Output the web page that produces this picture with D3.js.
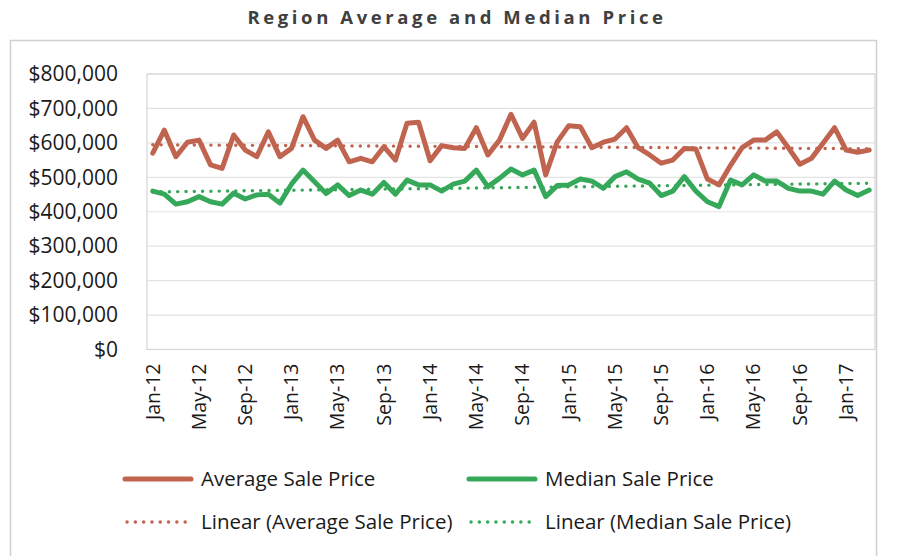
<!DOCTYPE html>
<html>
<head>
<meta charset="utf-8">
<script src="https://cdn.jsdelivr.net/npm/d3@7"></script>
<style>
  html, body { margin: 0; padding: 0; background: #fff; }
  svg { display: block; }
  text { font-family: "Open Sans", "Noto Sans", sans-serif; }
</style>
</head>
<body>
<svg id="chart" width="902" height="556"></svg>
<script>
// Monthly categories, Jan-12 through Mar-17
const months = [
  "Jan-12","Feb-12","Mar-12","Apr-12","May-12","Jun-12","Jul-12","Aug-12","Sep-12","Oct-12","Nov-12","Dec-12",
  "Jan-13","Feb-13","Mar-13","Apr-13","May-13","Jun-13","Jul-13","Aug-13","Sep-13","Oct-13","Nov-13","Dec-13",
  "Jan-14","Feb-14","Mar-14","Apr-14","May-14","Jun-14","Jul-14","Aug-14","Sep-14","Oct-14","Nov-14","Dec-14",
  "Jan-15","Feb-15","Mar-15","Apr-15","May-15","Jun-15","Jul-15","Aug-15","Sep-15","Oct-15","Nov-15","Dec-15",
  "Jan-16","Feb-16","Mar-16","Apr-16","May-16","Jun-16","Jul-16","Aug-16","Sep-16","Oct-16","Nov-16","Dec-16",
  "Jan-17","Feb-17","Mar-17"
];

// Average sale price per month
const averagePrice = [
  570000, 637000, 560000, 602000, 608000, 536000, 526000, 623000, 579000, 560000, 632000, 560000,
  584000, 676000, 608000, 584000, 608000, 545000, 555000, 545000, 589000, 550000, 657000, 660000,
  548000, 592000, 586000, 584000, 644000, 565000, 608000, 683000, 613000, 660000, 507000, 603000,
  650000, 647000, 586000, 602000, 611000, 644000, 586000, 565000, 541000, 550000, 584000, 582000,
  495000, 478000, 535000, 586000, 608000, 608000, 632000, 586000, 538000, 555000, 599000, 644000,
  579000, 573000, 579000
];

// Median sale price per month
const medianPrice = [
  460000, 451000, 422000, 429000, 444000, 429000, 422000, 454000, 437000, 449000, 451000, 425000,
  480000, 521000, 487000, 453000, 478000, 447000, 463000, 451000, 485000, 451000, 492000, 478000,
  478000, 460000, 480000, 489000, 521000, 473000, 497000, 524000, 507000, 521000, 444000, 476000,
  478000, 495000, 489000, 468000, 502000, 516000, 495000, 483000, 447000, 460000, 502000, 460000,
  429000, 415000, 492000, 478000, 507000, 489000, 489000, 468000, 460000, 460000, 451000, 489000,
  463000, 447000, 463000
];

const yTicks = [0, 100000, 200000, 300000, 400000, 500000, 600000, 700000, 800000];
const seriesNames = ["Average Sale Price", "Median Sale Price"];
const trendNames = ["Linear (Average Sale Price)", "Linear (Median Sale Price)"];
const chartTitle = "Region Average and Median Price";

const colors = { avg: "#C0644F", med: "#36A85A" };

const svg = d3.select("#chart");
const plot = { left: 147, right: 875, top: 74, bottom: 349.5 };

// Outer chart frame
svg.append("rect")
  .attr("x", 10.5).attr("y", 40.5)
  .attr("width", 866).attr("height", 530)
  .attr("fill", "none").attr("stroke", "#d0d0d0").attr("stroke-width", 1.5);

// Title
svg.append("text")
  .attr("x", 457).attr("y", 24)
  .attr("text-anchor", "middle")
  .attr("font-size", 18.5).attr("font-weight", 700)
  .attr("letter-spacing", 3.6)
  .attr("fill", "#404040")
  .text(chartTitle);

const x = d3.scaleBand().domain(months).range([plot.left, plot.right]).padding(0);
const xc = d => x(d) + x.bandwidth() / 2;
const y = d3.scaleLinear().domain([0, 800000]).range([plot.bottom, plot.top]);

// Gridlines
svg.append("g").selectAll("line").data(yTicks.filter(v => v > 0)).join("line")
  .attr("x1", plot.left).attr("x2", plot.right)
  .attr("y1", d => y(d)).attr("y2", d => y(d))
  .attr("stroke", "#e3e3e3").attr("stroke-width", 1.2);

// Plot area border
svg.append("rect")
  .attr("x", plot.left).attr("y", plot.top)
  .attr("width", plot.right - plot.left).attr("height", plot.bottom - plot.top)
  .attr("fill", "none").attr("stroke", "#d6d6d6").attr("stroke-width", 1.2);

// Y axis labels
const yAxis = d3.axisLeft(y).tickValues(yTicks).tickFormat(d3.format("$,")).tickSize(0).tickPadding(0);
const gy = svg.append("g").attr("transform", `translate(${118},0)`).call(yAxis);
gy.select(".domain").remove();
gy.selectAll("text").attr("font-size", 21).attr("fill", "#1a1a1a")
  .attr("font-family", "'Open Sans', sans-serif");

// X axis labels (every fourth month, rotated)
const xAxis = d3.axisBottom(x).tickValues(months.filter((m, i) => i % 4 === 0)).tickSize(0);
const gx = svg.append("g").attr("transform", `translate(0,${plot.bottom})`).call(xAxis);
gx.select(".domain").remove();
gx.selectAll("text")
  .attr("font-size", 19.5).attr("fill", "#1a1a1a")
  .attr("font-family", "'Open Sans', sans-serif")
  .attr("transform", "rotate(-90)")
  .attr("text-anchor", "end")
  .attr("x", -14).attr("y", 0).attr("dy", "0.35em");

// Least-squares linear trend of a series over category index
function linearTrend(values) {
  const n = values.length;
  const xs = d3.range(n);
  const mx = d3.mean(xs), my = d3.mean(values);
  const sxy = d3.sum(xs, i => (i - mx) * (values[i] - my));
  const sxx = d3.sum(xs, i => (i - mx) * (i - mx));
  const b = sxy / sxx, a = my - b * mx;
  return xs.map(i => a + b * i);
}

const line = d3.line().x((d, i) => xc(months[i])).y(d => y(d));

const dotStyle = sel => sel
  .attr("fill", "none")
  .attr("stroke-width", 3.4)
  .attr("stroke-linecap", "round")
  .attr("stroke-dasharray", "0.1 8.2");

// Trendlines
svg.append("path").datum(linearTrend(averagePrice))
  .attr("d", line).attr("stroke", colors.avg).call(dotStyle);
svg.append("path").datum(linearTrend(medianPrice))
  .attr("d", line).attr("stroke", colors.med).call(dotStyle);

// Series lines
svg.append("path").datum(averagePrice)
  .attr("d", line).attr("fill", "none").attr("stroke", colors.avg)
  .attr("stroke-width", 5).attr("stroke-linejoin", "round").attr("stroke-linecap", "round");
svg.append("path").datum(medianPrice)
  .attr("d", line).attr("fill", "none").attr("stroke", colors.med)
  .attr("stroke-width", 5).attr("stroke-linejoin", "round").attr("stroke-linecap", "round");

// Legend
const legendItems = [
  { name: seriesNames[0], color: colors.avg, dotted: false, x: 125, y: 479 },
  { name: seriesNames[1], color: colors.med, dotted: false, x: 469, y: 479 },
  { name: trendNames[0], color: colors.avg, dotted: true, x: 125, y: 522 },
  { name: trendNames[1], color: colors.med, dotted: true, x: 469, y: 522 }
];
const lg = svg.append("g").selectAll("g").data(legendItems).join("g")
  .attr("transform", d => `translate(${d.x},${d.y})`);
lg.each(function(d) {
  const g = d3.select(this);
  const l = g.append("line").attr("x1", 0).attr("x2", 66).attr("y1", 0).attr("y2", 0)
    .attr("stroke", d.color);
  if (d.dotted) l.call(dotStyle).attr("x1", 2).attr("x2", 64);
  else l.attr("stroke-width", 5).attr("stroke-linecap", "round");
  g.append("text").attr("x", 76).attr("y", 0).attr("dy", "0.35em")
    .attr("font-size", 20.5).attr("fill", "#1a1a1a").text(d.name);
});
</script>
</body>
</html>
